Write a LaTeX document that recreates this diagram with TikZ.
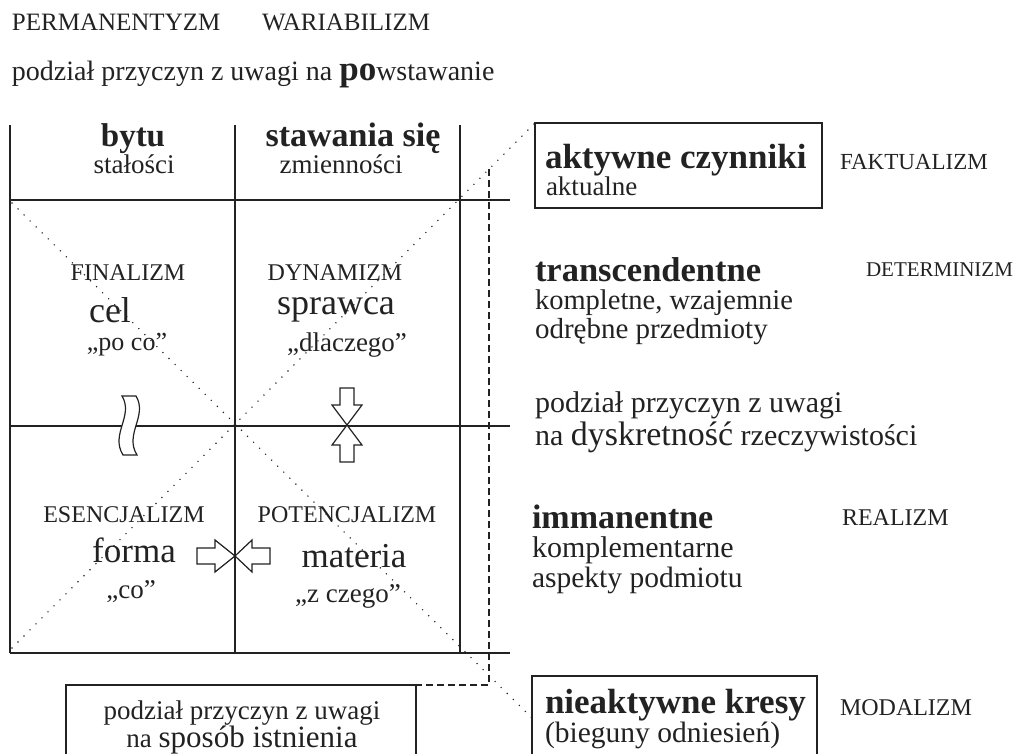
\documentclass[tikz,border=0pt]{standalone}
\usepackage{fontspec}
\setmainfont{Liberation Serif}
\newcommand{\fsz}[1]{\fontsize{#1}{#1}\selectfont}
\definecolor{ink}{HTML}{222222}
\begin{document}
\begin{tikzpicture}[x=1pt,y=-1pt,color=ink,
  every node/.style={inner sep=0pt,outer sep=0pt,text=ink},
  gridline/.style={line width=1.3pt},
  dotline/.style={line width=1.6pt,line cap=round,dash pattern=on 0pt off 8.5pt},
  dashline/.style={line width=1.3pt,dash pattern=on 7pt off 4pt},
  framebox/.style={draw=ink,line width=1.4pt,anchor=north west},
  hollow/.style={draw=ink,line width=1.2pt,fill=white,line join=miter},
  capl/.style={font=\fsz{24}},
  txt/.style={anchor=west},
  btxt/.style={anchor=base west},
  bc/.style={anchor=base}
]
\useasboundingbox (0,0) rectangle (1017,753);

% grid coordinates
\coordinate (v1t) at (10,125);  \coordinate (v1b) at (10,653);
\coordinate (v2t) at (235,125); \coordinate (v2b) at (235,653);
\coordinate (v3t) at (460,125); \coordinate (v3b) at (460,653);
\coordinate (h1l) at (10,200);  \coordinate (h1r) at (510,200);
\coordinate (h2l) at (10,426);  \coordinate (h2r) at (510,426);
\coordinate (h3l) at (10,653);  \coordinate (h3r) at (510,653);

\draw[gridline] (v1t) -- (v1b);
\draw[gridline] (v2t) -- (v2b);
\draw[gridline] (v3t) -- (v3b);
\draw[gridline] (h1l) -- (h1r);
\draw[gridline] (h2l) -- (h2r);
\draw[gridline] (h3l) -- (h3r);

% boxes
\node[framebox,minimum width=287pt,minimum height=85pt] (boxA) at (535,123) {};
\node[framebox,minimum width=285pt,minimum height=110pt] (boxB) at (532,676) {};
\node[framebox,minimum width=350pt,minimum height=100pt] (boxC) at (66,685) {};

% dotted diagonals
\coordinate (d1s) at (12,203);
\coordinate (d1e) at (532,718);
\coordinate (d2s) at (12,648);
\draw[dotline] (d1s) -- (d1e);
\draw[dotline] (d2s) -- (boxA.north west);

% dashed connector
\coordinate (dtop) at (489,169);
\coordinate (dbot) at (489,685);
\draw[dashline] (dtop) -- (dbot) -- (boxC.north east);

% wavy break on the middle line
\draw[hollow] (122,396) .. controls (134,416) and (110,434) .. (123,455)
  -- (137,455) .. controls (124,434) and (148,416) .. (136,396) -- cycle;
% vertical double arrow
\draw[hollow] (340,388) -- (354,388) -- (354,405) -- (362,405) -- (347,425) -- (332,405) -- (340,405) -- cycle;
\draw[hollow] (340,462) -- (354,462) -- (354,445) -- (362,445) -- (347,425) -- (332,445) -- (340,445) -- cycle;
% horizontal double arrow
\draw[hollow] (197,548) -- (215,548) -- (215,540) -- (235,556) -- (215,572) -- (215,564) -- (197,564) -- cycle;
\draw[hollow] (270,548) -- (252,548) -- (252,540) -- (235,556) -- (252,572) -- (252,564) -- (270,564) -- cycle;

% header texts
\node[txt,font=\fsz{25}] (perm) at (12,22) {PERMANENTYZM};
\node[txt,font=\fsz{25}] (wari) at (262,22) {WARIABILIZM};
\node[txt,font=\fsz{28}] (powst) at (12,75) {podział przyczyn z uwagi na {\fsz{35}\bfseries po}wstawanie};

% grid texts
\node[bc,font=\fsz{33}\bfseries] (bytu) at (133,146) {bytu};
\node[bc,font=\fsz{27}] (stal) at (134,173) {stałości};
\node[bc,font=\fsz{34}\bfseries] (staw) at (353,146) {stawania się};
\node[bc,font=\fsz{27}] (zmien) at (341,173) {zmienności};

\node[capl] (fin) at (128,273) {FINALIZM};
\node[font=\fsz{36}] (cel) at (110,310) {cel};
\node[font=\fsz{26}] (poco) at (127,345) {„po co"};
\node[capl] (dyn) at (335,273) {DYNAMIZM};
\node[font=\fsz{36}] (spr) at (336,310) {sprawca};
\node[font=\fsz{27}] (dlacz) at (347,345) {„dlaczego"};

\node[capl] (esen) at (124,515) {ESENCJALIZM};
\node[font=\fsz{35}] (forma) at (134,550) {forma};
\node[font=\fsz{27}] (co) at (131,592) {„co"};
\node[capl] (pot) at (347,515) {POTENCJALIZM};
\node[font=\fsz{35}] (mat) at (354,556) {materia};
\node[font=\fsz{27}] (zczego) at (348,596) {„z czego"};

% right texts
\node[txt,font=\fsz{35}\bfseries] (akt) at (545,160) {aktywne czynniki};
\node[txt,font=\fsz{27}] (aktual) at (546,186) {aktualne};
\node[txt,font=\fsz{23}] (fakt) at (840,162) {FAKTUALIZM};

\node[txt,font=\fsz{34.5}\bfseries] (trans) at (535,270) {transcendentne};
\node[txt,font=\fsz{21}] (det) at (866,270) {DETERMINIZM};
\node[txt,font=\fsz{28.5}] (kompl) at (535,303) {kompletne, wzajemnie};
\node[txt,font=\fsz{29}] (odr) at (535,332) {odrębne przedmioty};

\node[btxt,font=\fsz{30}] (dys1) at (535,412) {podział przyczyn z uwagi};
\node[btxt,font=\fsz{30}] (dys2) at (535,445) {na {\fsz{34}dyskretność} rzeczywistości};

\node[txt,font=\fsz{34}\bfseries] (imm) at (532,517) {immanentne};
\node[txt,font=\fsz{24}] (real) at (842,518) {REALIZM};
\node[txt,font=\fsz{30}] (komp) at (532,550) {komplementarne};
\node[txt,font=\fsz{29.5}] (asp) at (532,580) {aspekty podmiotu};

\node[txt,font=\fsz{35}\bfseries] (niea) at (545,705) {nieaktywne kresy};
\node[txt,font=\fsz{29.5}] (bieg) at (545,735) {(bieguny odniesień)};
\node[txt,font=\fsz{24}] (modal) at (840,708) {MODALIZM};

\node[bc,font=\fsz{27}] (spo1) at (242,719) {podział przyczyn z uwagi};
\node[bc,font=\fsz{27}] (spo2) at (242,747) {na {\fsz{31}sposób istnienia}};
\end{tikzpicture}
\end{document}
